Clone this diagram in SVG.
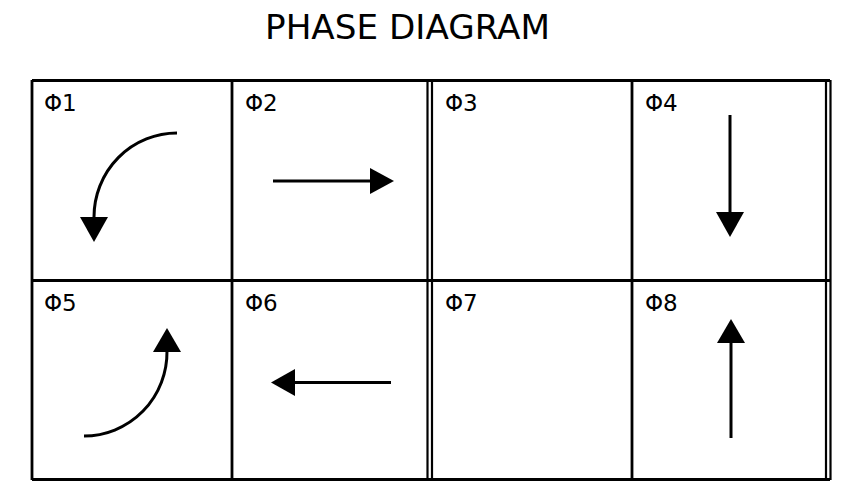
<svg xmlns="http://www.w3.org/2000/svg" width="850" height="487" viewBox="0 0 850 487">
<style>
.grid{stroke:#000;stroke-width:2.8;fill:none}
.dbl{stroke:#000;stroke-width:2.2;fill:none}
.lbl{font-family:"DejaVu Sans",Verdana,sans-serif;font-size:23px;fill:#000}
.title{font-family:"DejaVu Sans",Verdana,sans-serif;font-size:33px;fill:#000}
.arr{stroke:#000;stroke-width:3;fill:none}
.head{fill:#000}
</style>
<rect width="850" height="487" fill="#fff"/>
<text class="title" x="407.5" y="38.5" text-anchor="middle" textLength="285" lengthAdjust="spacingAndGlyphs">PHASE DIAGRAM</text>
<g id="grid">
<line class="grid" x1="32" y1="80.5" x2="830" y2="80.5"/>
<line class="grid" x1="32" y1="280.5" x2="830" y2="280.5"/>
<line class="grid" x1="32" y1="479.5" x2="830" y2="479.5"/>
<line class="grid" x1="32" y1="80" x2="32" y2="480"/>
<line class="grid" x1="232" y1="80" x2="232" y2="480"/>
<line class="dbl" x1="427.5" y1="80" x2="427.5" y2="480"/>
<line class="dbl" x1="432" y1="80" x2="432" y2="480"/>
<line class="grid" x1="632" y1="80" x2="632" y2="480"/>
<line class="dbl" x1="826" y1="80" x2="826" y2="480"/>
<line class="dbl" x1="830.5" y1="80" x2="830.5" y2="480"/>
</g>
<g id="phi1"><text class="lbl" x="44" y="111">Φ1</text></g>
<g id="phi2"><text class="lbl" x="245" y="111">Φ2</text></g>
<g id="phi3"><text class="lbl" x="445" y="111">Φ3</text></g>
<g id="phi4"><text class="lbl" x="645" y="111">Φ4</text></g>
<g id="phi5"><text class="lbl" x="44" y="311">Φ5</text></g>
<g id="phi6"><text class="lbl" x="245" y="311">Φ6</text></g>
<g id="phi7"><text class="lbl" x="445" y="311">Φ7</text></g>
<g id="phi8"><text class="lbl" x="645" y="311">Φ8</text></g>
<g id="connectors">
<path class="arr" d="M177,133 A83,84 0 0 0 94,217"/>
<polygon class="head" points="80,217 108,217 94,242"/>
<line class="arr" x1="273" y1="181" x2="371" y2="181"/>
<polygon class="head" points="370,168 370,194 394,181"/>
<line class="arr" x1="730" y1="115" x2="730" y2="213"/>
<polygon class="head" points="716,212 744,212 730,237"/>
<path class="arr" d="M84,436 A83,84 0 0 0 167,351"/>
<polygon class="head" points="153,352 181,352 167,328"/>
<line class="arr" x1="294" y1="382.5" x2="391" y2="382.5"/>
<polygon class="head" points="295,369 295,396 271,382.5"/>
<line class="arr" x1="731" y1="343" x2="731" y2="438"/>
<polygon class="head" points="717,343 745,343 731,319"/>
</g>
</svg>
